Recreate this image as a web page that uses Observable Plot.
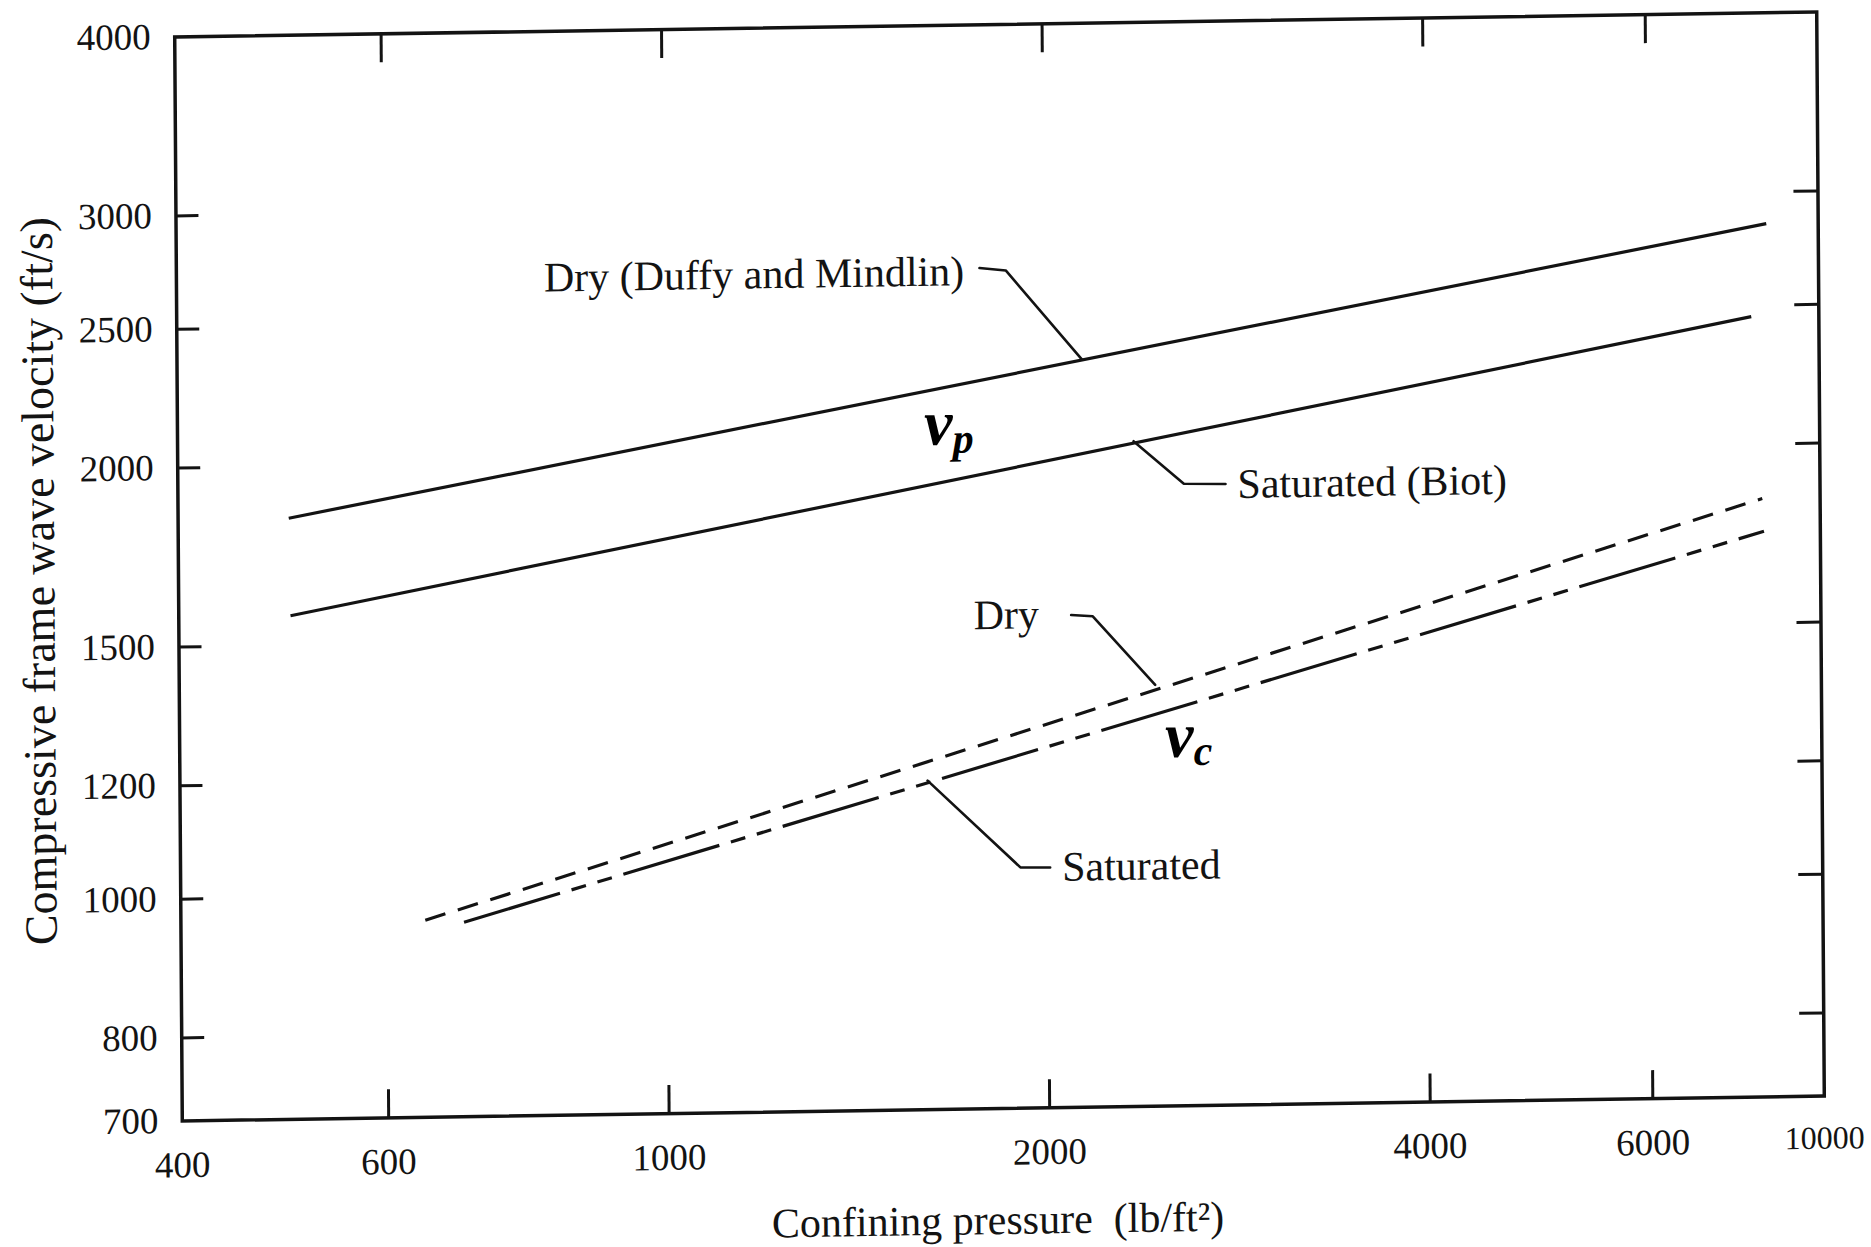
<!DOCTYPE html>
<html>
<head>
<meta charset="utf-8">
<script src="https://cdn.jsdelivr.net/npm/d3@7"></script>
<script src="https://cdn.jsdelivr.net/npm/@observablehq/plot@0.6"></script>
<style>
  html, body { margin: 0; padding: 0; background: #fff; }
  /* the scanned original sits slightly skewed on the page */
  #chart svg { display: block; transform: matrix(1, -0.0152, 0.007, 1, 0, 0); transform-origin: 999px 566px; }
</style>
</head>
<body>
<div id="chart"></div>
<script>
// ---------- data ----------
// four straight lines on log-log axes: start and end points
const seriesKeys      = ["dryDM", "satBiot", "dryC", "satC"];
const pressureStart   = [504, 505, 643, 690];     // lb/ft²
const pressureEnd     = [7460, 7250, 7380, 7400];
const velocityStart   = [1840, 1573, 961, 957];   // ft/s
const velocityEnd     = [2850, 2455, 1832, 1738];

// axes
const xDomain = [412, 8200];
const yDomain = [700, 4000];
const xTickValues = [600, 1000, 2000, 4000, 6000];
const xLabelValues = [412, 600, 1000, 2000, 4000, 6000];
const xLabelTexts  = ["400", "600", "1000", "2000", "4000", "6000"];
const xEndLabelValues = [8200];
const xEndLabelTexts  = ["10000"];
const yTickValues = [800, 1000, 1200, 1500, 2000, 2500, 3000];
const yLabelValues = [700, 800, 1000, 1200, 1500, 2000, 2500, 3000, 4000];
const yLabelTexts  = ["700", "800", "1000", "1200", "1500", "2000", "2500", "3000", "4000"];
const xTitle = "Confining pressure\u00a0 (lb/ft\u00b2)";
const yTitle = "Compressive frame wave velocity (ft/s)";

// labels with leader lines (data coordinates)
const labelTexts     = ["Dry (Duffy and Mindlin)", "Saturated (Biot)", "Dry", "Saturated"];
const labelPressure  = [1730, 2838, 1974, 2052];
const labelVelocity  = [2690, 1898, 1547, 1030];
const leaderPressure = [[1779, 1866, 2141], [2350, 2574, 2777], [2093, 2177, 2437], [1608, 1902, 2008]];
const leaderVelocity = [[2705, 2693, 2330], [2040, 1903, 1900], [1545, 1541, 1378], [1188, 1031, 1030]];

// symbols v_p and v_c
const symbolMain = ["v", "v"];
const symbolSub = ["p", "c"];
const symbolPressure = [1605, 2480];
const symbolVelocity = [2107, 1268];

// ---------- tables built from the arrays ----------
const lineRows = seriesKeys.flatMap((k, i) => [
  {series: k, pressure: pressureStart[i], velocity: velocityStart[i]},
  {series: k, pressure: pressureEnd[i], velocity: velocityEnd[i]}
]);
const leaderRows = leaderPressure.flatMap((ps, i) => ps.map((p, j) => ({id: i, pressure: p, velocity: leaderVelocity[i][j]})));
const labelRows = labelTexts.map((t, i) => ({text: t, pressure: labelPressure[i], velocity: labelVelocity[i], anchor: i % 2 === 0 ? "end" : "start"}));
const symRows = symbolMain.map((t, i) => ({text: t, pressure: symbolPressure[i], velocity: symbolVelocity[i]}));
const xLab = new Map(xLabelValues.map((v, i) => [v, xLabelTexts[i]]));
const xEndLab = new Map(xEndLabelValues.map((v, i) => [v, xEndLabelTexts[i]]));
const yLab = new Map(yLabelValues.map((v, i) => [v, yLabelTexts[i]]));

// ---------- styles ----------
const ink = "#131313";
const dashFor = {dryDM: null, satBiot: null, dryC: "21,13", satC: "100,12,15,12,15,12"};
const font = "'Liberation Serif', 'Times New Roman', serif";

const lineMarks = seriesKeys.map(k => Plot.line(lineRows.filter(r => r.series === k), {
  x: "pressure", y: "velocity", stroke: ink, strokeWidth: 3.2,
  strokeDasharray: dashFor[k] ?? undefined, strokeLinecap: "butt"
}));

const chart = Plot.plot({
  width: 1871,
  height: 1247,
  marginLeft: 178,
  marginRight: 51,
  marginTop: 24,
  marginBottom: 139,
  style: {fontFamily: font, color: ink, background: "white"},
  x: {type: "log", domain: xDomain, label: null},
  y: {type: "log", domain: yDomain, label: null},
  marks: [
    // inward ticks
    Plot.axisX(xTickValues, {anchor: "bottom", tickSize: -28, tickFormat: () => "", strokeWidth: 3, stroke: ink, label: null}),
    Plot.axisX(xTickValues, {anchor: "top", tickSize: -28, tickFormat: () => "", strokeWidth: 3, stroke: ink, label: null}),
    Plot.axisY(yTickValues, {anchor: "left", tickSize: -23, tickFormat: () => "", strokeWidth: 3, stroke: ink, label: null}),
    Plot.axisY(yTickValues, {anchor: "right", tickSize: -25, tickFormat: () => "", strokeWidth: 3, stroke: ink, label: null}),
    // tick labels
    Plot.axisX(xLabelValues, {anchor: "bottom", tickSize: 0, tickPadding: 30, tickFormat: d => xLab.get(d), fontSize: 37, fill: ink, label: null}),
    Plot.axisX(xEndLabelValues, {anchor: "bottom", tickSize: 0, tickPadding: 30, tickFormat: d => xEndLab.get(d), fontSize: 32, fill: ink, label: null}),
    Plot.axisY(yLabelValues, {anchor: "left", tickSize: 0, tickPadding: 24, tickFormat: d => yLab.get(d), fontSize: 37, fill: ink, label: null}),
    Plot.frame({stroke: ink, strokeWidth: 3.5}),
    // data lines
    ...lineMarks,
    // leaders
    Plot.line(leaderRows, {x: "pressure", y: "velocity", z: "id", stroke: ink, strokeWidth: 2.6, strokeLinejoin: "miter"}),
    // labels
    Plot.text(labelRows.filter(d => d.anchor === "end"), {x: "pressure", y: "velocity", text: "text", textAnchor: "end", fontSize: 42, fill: ink}),
    Plot.text(labelRows.filter(d => d.anchor === "start"), {x: "pressure", y: "velocity", text: "text", textAnchor: "start", fontSize: 42, fill: ink}),
    Plot.text(symRows, {x: "pressure", y: "velocity", text: "text", textAnchor: "start", fontSize: 64, fontStyle: "italic", fontWeight: "bold", fill: "#000"}),
    // axis titles
    Plot.text([yTitle], {frameAnchor: "left", text: d => d, dx: -139, rotate: -90, textAnchor: "middle", lineAnchor: "middle", fontSize: 46, fill: ink}),
    Plot.text([xTitle], {frameAnchor: "bottom", text: d => d, dx: -6, dy: 112, textAnchor: "middle", lineAnchor: "middle", fontSize: 42, fill: ink})
  ]
});

// subscripts p and c as tspans of the v symbols
let k = 0;
d3.select(chart).selectAll("text")
  .filter(function () { return this.textContent === "v" && this.parentNode.getAttribute("font-style") === "italic"; })
  .each(function () {
    const sub = symbolSub[k++];
    if (sub === undefined) return;
    d3.select(this).append("tspan").attr("font-size", 42).attr("dy", "0.2em").text(sub);
  });

document.getElementById("chart").appendChild(chart);
</script>
</body>
</html>
